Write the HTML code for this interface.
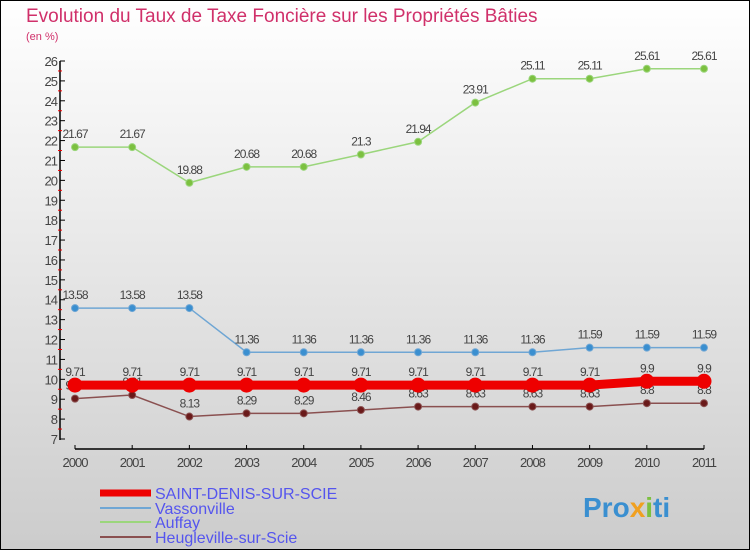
<!DOCTYPE html>
<html><head><meta charset="utf-8"><style>
body{margin:0;width:750px;height:550px;overflow:hidden;font-family:"Liberation Sans",sans-serif}
#c{position:absolute;left:0;top:0;width:748px;height:548px;border:1px solid #000;background:linear-gradient(#fff,#ccc)}
</style></head><body>
<div id="c">
<svg id="s" width="750" height="550" style="position:absolute;left:-1px;top:-1px" font-family="Liberation Sans, sans-serif">
<text x="26" y="22" font-size="19" fill="#d0306a">Evolution du Taux de Taxe Foncière sur les Propriétés Bâties</text>
<text x="26" y="40" font-size="11" fill="#d0306a">(en %)</text>
<g id="axes"></g><g id="series"></g>
<g>
<line x1="100" y1="493" x2="151" y2="493" stroke="#e00" stroke-width="7"/>
<text x="155" y="499" font-size="16" fill="#5555ee">SAINT-DENIS-SUR-SCIE</text>
<line x1="100" y1="508" x2="151" y2="508" stroke="#6fa6d4" stroke-width="2"/>
<text x="155" y="514" font-size="16" fill="#5555ee">Vassonville</text>
<line x1="100" y1="522" x2="151" y2="522" stroke="#9bd67c" stroke-width="2"/>
<text x="155" y="528" font-size="16" fill="#5555ee">Auffay</text>
<line x1="100" y1="537" x2="151" y2="537" stroke="#8a5050" stroke-width="2"/>
<text x="155" y="543" font-size="16" fill="#5555ee">Heugleville-sur-Scie</text>
</g>
<text x="583" y="517" font-size="28" font-weight="bold" fill="#3a8fd0">Pro<tspan fill="#f0a020">x</tspan><tspan fill="#7cc040">i</tspan>ti</text>
</svg></div>
<script>
const years=[2000,2001,2002,2003,2004,2005,2006,2007,2008,2009,2010,2011];
const yTicks=[7,8,9,10,11,12,13,14,15,16,17,18,19,20,21,22,23,24,25,26];
const saintDenis=[9.71,9.71,9.71,9.71,9.71,9.71,9.71,9.71,9.71,9.71,9.9,9.9];
const vassonville=[13.58,13.58,13.58,11.36,11.36,11.36,11.36,11.36,11.36,11.59,11.59,11.59];
const auffay=[21.67,21.67,19.88,20.68,20.68,21.3,21.94,23.91,25.11,25.11,25.61,25.61];
const heugleville=[9.03,9.21,8.13,8.29,8.29,8.46,8.63,8.63,8.63,8.63,8.8,8.8];
const NS="http://www.w3.org/2000/svg";
const X=i=>75+i*(704-75)/(years.length-1);
const Y=v=>439-(v-7)*(439-61)/19;
function mk(tag,attrs,parent){const e=document.createElementNS(NS,tag);for(const k in attrs)e.setAttribute(k,attrs[k]);parent.appendChild(e);return e;}
const ax=document.getElementById('axes');
let a=mk('line',{x1:60,y1:Y(26),x2:60,y2:440,stroke:'#000','stroke-width':1.5},ax);


a=mk('line',{x1:75,y1:449,x2:704,y2:449,stroke:'#000','stroke-width':1.5},ax);


yTicks.forEach(v=>{
 mk('line',{x1:60,y1:Y(v),x2:65,y2:Y(v),stroke:'#000'},ax);
 if(v<26)mk('line',{x1:58,y1:Y(v+0.5),x2:62,y2:Y(v+0.5),stroke:'#e00'},ax);
 const t=mk('text',{x:57,y:Y(v)+5,'font-size':13,fill:'#444','text-anchor':'end','letter-spacing':'-1'},ax);
 t.textContent=v;
 
 
});
years.forEach((y,i)=>{
 mk('line',{x1:X(i),y1:445,x2:X(i),y2:449,stroke:'#000'},ax);
 const t=mk('text',{x:X(i),y:467,'font-size':13,fill:'#444','text-anchor':'middle','letter-spacing':'-1'},ax);
 t.textContent=y;
 
 
});
const sg=document.getElementById('series');
function series(data,color,w,r,name,dot){
 const g=mk('g',{},sg);
 
 
 const p=mk('polyline',{points:data.map((v,i)=>X(i)+','+Y(v)).join(' '),fill:'none',stroke:color,'stroke-width':w},g);
 
 
 data.forEach((v,i)=>{
  const c=mk('circle',{cx:X(i),cy:Y(v),r:r,fill:dot,stroke:color,'stroke-width':1},g);
  
  
  const t=mk('text',{x:X(i),y:Y(v)-9,'font-size':12,fill:'#444','text-anchor':'middle','letter-spacing':'-1'},g);
  t.textContent=String(v);
  
  
 });
}
series(auffay,'#9bd67c',1.5,3.5,'auffay','#7cc040');
series(vassonville,'#6fa6d4',1.5,3.5,'vassonville','#3a8fd0');
series(heugleville,'#8a5050',1.5,3.5,'heugleville','#6a1a1a');
series(saintDenis,'#e00',9,7,'saint-denis','#e00');
</script>
</body></html>
